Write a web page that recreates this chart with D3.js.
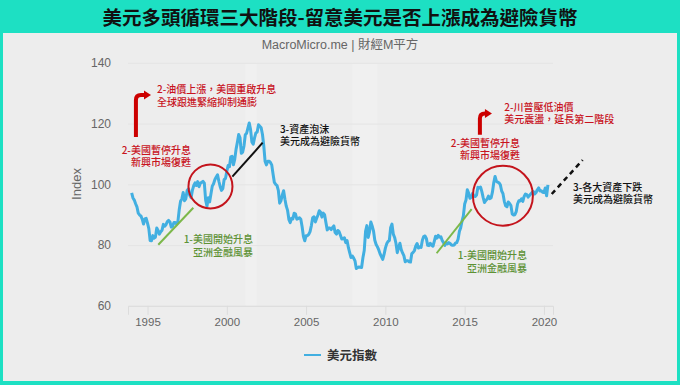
<!DOCTYPE html>
<html>
<head>
<meta charset="utf-8">
<script src="https://cdn.jsdelivr.net/npm/d3@7"></script>
<style>
  body { margin: 0; background: #1de0c3; }
  text { font-family: "Liberation Sans", Arial, "Noto Sans CJK TC", sans-serif; }
  .cjk { font-family: "Noto Sans CJK TC", "Noto Sans CJK SC", sans-serif; }
</style>
</head>
<body>
<script>
// US dollar index, monthly, starting Jan 1994
const dxyStartYear = 1994;
const dxyMonthly = [
  97.2, 95.5, 94.8, 93.6, 92.6, 90.5, 89.9, 89.6, 88.5, 86.9, 88.6, 88.8,
  87.2, 85.4, 81.5, 81.4, 83.1, 82.3, 82.6, 85.6, 84.8, 83.6, 84.4, 84.9,
  86.8, 86.2, 86.7, 87.7, 88.1, 87.6, 85.9, 86.2, 87.4, 87.4, 86.9, 87.8,
  91.6, 94.4, 95.2, 97.3, 94.6, 95.2, 98.0, 98.5, 96.3, 95.6, 98.1, 99.6,
  100.5, 99.6, 100.9, 99.2, 100.4, 100.6, 101.0, 100.4, 94.8, 92.8, 95.6, 94.2,
  96.8, 99.4, 100.2, 101.6, 102.4, 103.1, 101.0, 99.2, 98.0, 98.6, 101.6, 101.9,
  104.2, 106.2, 105.8, 109.0, 109.2, 106.4, 108.2, 111.5, 113.8, 116.4, 115.4, 110.2,
  110.6, 112.6, 116.3, 116.8, 118.6, 120.2, 118.0, 113.9, 113.2, 115.3, 116.9, 117.2,
  119.6, 119.1, 118.6, 116.4, 112.6, 107.5, 106.4, 107.6, 107.6, 107.2, 106.4, 103.4,
  100.6, 100.0, 99.6, 98.0, 93.8, 94.6, 96.5, 97.9, 95.1, 92.8, 91.4, 88.4,
  87.4, 88.8, 88.6, 90.5, 90.2, 88.5, 88.7, 89.0, 88.5, 86.0, 82.8, 81.4,
  83.1, 83.1, 83.5, 84.4, 86.4, 89.0, 89.3, 87.6, 88.8, 89.9, 91.3, 90.8,
  89.2, 90.5, 90.0, 87.4, 85.0, 85.6, 85.6, 85.1, 85.8, 86.3, 84.1, 83.6,
  84.8, 84.4, 83.2, 82.0, 82.1, 82.4, 80.8, 81.5, 79.2, 77.5, 75.9, 76.4,
  75.7, 74.8, 72.3, 72.6, 72.8, 72.7, 72.6, 75.8, 78.2, 84.5, 86.4, 82.5,
  84.3, 87.6, 86.3, 84.7, 81.6, 80.2, 79.4, 78.4, 77.1, 76.2, 75.3, 76.9,
  79.0, 80.4, 81.2, 81.5, 85.8, 86.9, 83.6, 82.5, 80.6, 77.5, 79.2, 80.6,
  78.5, 77.4, 76.5, 74.5, 74.8, 74.8, 74.5, 74.4, 77.2, 77.6, 78.2, 79.7,
  80.5, 79.0, 79.4, 79.2, 81.6, 82.8, 83.0, 82.2, 79.9, 79.8, 80.6, 79.9,
  79.6, 81.2, 82.9, 82.3, 83.2, 82.6, 82.7, 81.5, 80.8, 79.9, 80.8, 80.4,
  80.8, 80.5, 80.0, 79.9, 80.0, 80.6, 80.8, 81.9, 84.5, 85.7, 87.9, 89.6,
  93.5, 94.8, 98.2, 97.1, 95.4, 95.8, 97.0, 96.1, 96.0, 96.5, 99.0, 98.8,
  99.1, 97.6, 95.6, 94.0, 94.7, 95.1, 96.1, 95.3, 95.5, 97.4, 100.5, 102.6,
  101.0, 100.7, 100.5, 99.8, 97.8, 96.9, 94.4, 92.9, 92.6, 94.2, 93.7, 93.0,
  90.2, 89.9, 90.0, 91.0, 93.5, 94.6, 94.5, 95.2, 94.4, 96.0, 96.8, 96.6,
  95.8, 96.3, 96.8, 97.3, 97.6, 96.8, 97.3, 98.2, 98.8, 97.8, 97.9, 97.4,
  97.3, 98.8, 96.2, 99.8
];
const yTicks = [60, 80, 100, 120, 140];
const xTicks = [1995, 2000, 2005, 2010, 2015, 2020];
const recessions = [[2001.17, 2001.88], [2007.92, 2009.5]];

// annotations, anchored in [year, index] coordinates
const annoTexts = [
  {lines: ["2-油價上漲，美國重啟升息", "全球跟進緊縮抑制通膨"], at: [1995.6, 129.9], anchor: "start", color: "#c8141e"},
  {lines: ["2-美國暫停升息", "新興市場復甦"], at: [1997.74, 110.0], anchor: "end", color: "#c8141e"},
  {lines: ["3-資產泡沫", "美元成為避險貨幣"], at: [2003.35, 116.9], anchor: "start", color: "#111"},
  {lines: ["1-美國開始升息", "亞洲金融風暴"], at: [2001.65, 80.6], anchor: "end", color: "#5e9236"},
  {lines: ["2-川普壓低油價", "美元震盪，延長第二階段"], at: [2017.5, 124.2], anchor: "start", color: "#c8141e"},
  {lines: ["2-美國暫停升息", "新興市場復甦"], at: [2018.49, 112.4], anchor: "end", color: "#c8141e"},
  {lines: ["1-美國開始升息", "亞洲金融風暴"], at: [2018.93, 75.4], anchor: "end", color: "#5e9236"},
  {lines: ["3-各大資產下跌", "美元成為避險貨幣"], at: [2021.83, 97.9], anchor: "start", color: "#111"}
];
const annoLines = [
  {from: [1995.68, 80.1], to: [1997.89, 92.3], color: "#7cb84a", dash: null},
  {from: [2013.23, 77.3], to: [2015.44, 91.8], color: "#7cb84a", dash: null},
  {from: [2000.35, 102.5], to: [2002.26, 113.7], color: "#111", dash: null},
  {from: [2020.49, 96.8], to: [2022.44, 108.0], color: "#111", dash: "5,4"}
];
const annoCircles = [
  {at: [1998.97, 99.3], r: 22},
  {at: [2017.41, 96.25], r: 30}
];
const annoArrows = [
  {bottom: [1994.27, 115.6], corner: 129.4, tip: 1995.22},
  {bottom: [2015.96, 116.3], corner: 123.3, tip: 2016.72}
];

const W = 680, H = 385;
const svg = d3.select("body").append("svg").attr("width", W).attr("height", H);

svg.append("rect").attr("width", W).attr("height", H).attr("fill", "#1de0c3");
svg.append("rect").attr("x", 3).attr("y", 33).attr("width", 674).attr("height", 348).attr("fill", "#ededed");

svg.append("text").attr("class", "cjk")
  .attr("x", 340).attr("y", 24.5).attr("text-anchor", "middle")
  .attr("font-size", 19.5).attr("font-weight", "bold").attr("fill", "#111")
  .text("美元多頭循環三大階段-留意美元是否上漲成為避險貨幣");

svg.append("text")
  .attr("x", 340).attr("y", 48.5).attr("text-anchor", "middle")
  .attr("font-size", 12.5).attr("fill", "#666")
  .text("MacroMicro.me | 財經M平方");

const x = d3.scaleLinear().domain([1993.77, 2020.57]).range([128, 553]);
const y = d3.scaleLinear().domain([60, 140]).range([305.8, 62.8]);

// recession bands
svg.selectAll(".band").data(recessions).enter().append("rect")
  .attr("x", d => x(d[0])).attr("width", d => x(d[1]) - x(d[0]))
  .attr("y", y(140)).attr("height", y(60) - y(140))
  .attr("fill", "#f0f0f0");

// y axis + grid
const gy = svg.append("g").attr("transform", "translate(128,0)")
  .call(d3.axisLeft(y).tickValues(yTicks).tickSize(-(553 - 128)).tickPadding(17));
gy.select(".domain").remove();
gy.selectAll("line").attr("stroke", "#e4e4e4");
gy.selectAll("text").attr("font-size", 12).attr("fill", "#666")
  .attr("font-family", "'Liberation Sans', Arial, sans-serif");

// x axis
const gx = svg.append("g").attr("transform", "translate(0," + y(60) + ")")
  .call(d3.axisBottom(x).tickValues(xTicks).tickFormat(d3.format("d")).tickSize(9).tickPadding(3));
gx.select(".domain").attr("stroke", "#dcdcdc");
gx.selectAll("line").attr("stroke", "#dcdcdc");
gx.selectAll("text").attr("font-size", 11.5).attr("fill", "#666")
  .attr("font-family", "'Liberation Sans', Arial, sans-serif");

svg.append("text")
  .attr("transform", "translate(81,184) rotate(-90)")
  .attr("text-anchor", "middle").attr("font-size", 13).attr("fill", "#666")
  .text("Index");

// series
const series = dxyMonthly.map((v, i) => ({t: dxyStartYear + i / 12, v: v}));
svg.append("path").datum(series)
  .attr("fill", "none").attr("stroke", "#42afe1").attr("stroke-width", 3)
  .attr("stroke-linejoin", "round")
  .attr("d", d3.line().x(d => x(d.t)).y(d => y(d.v)));

// annotation lines
svg.selectAll(".aline").data(annoLines).enter().append("line")
  .attr("x1", d => x(d.from[0])).attr("y1", d => y(d.from[1]))
  .attr("x2", d => x(d.to[0])).attr("y2", d => y(d.to[1]))
  .attr("stroke", d => d.color).attr("stroke-width", d => d.dash ? 2.5 : 2)
  .attr("stroke-dasharray", d => d.dash);

svg.selectAll(".acircle").data(annoCircles).enter().append("circle")
  .attr("cx", d => x(d.at[0])).attr("cy", d => y(d.at[1])).attr("r", d => d.r)
  .attr("fill", "none").attr("stroke", "#c4141c").attr("stroke-width", 2);

// red bent arrows
annoArrows.forEach(a => {
  const bx = x(a.bottom[0]), by = y(a.bottom[1]);
  const cy = y(a.corner), tx = x(a.tip);
  svg.append("path")
    .attr("d", `M${bx},${by} L${bx},${cy + 5} Q${bx},${cy} ${bx + 5},${cy} L${tx - 5},${cy}`)
    .attr("fill", "none").attr("stroke", "#cc0000").attr("stroke-width", 4);
  svg.append("path")
    .attr("d", `M${tx},${cy} L${tx - 7},${cy - 4.5} L${tx - 7},${cy + 4.5} Z`)
    .attr("fill", "#cc0000");
});

// annotation texts, one text element per line
annoTexts.forEach(a => {
  a.lines.forEach((l, i) => {
    svg.append("text").attr("class", "cjk")
      .attr("x", x(a.at[0])).attr("y", y(a.at[1]) + i * 12.5)
      .attr("text-anchor", a.anchor).attr("font-size", 10)
      .attr("font-weight", 500).attr("fill", a.color)
      .text(l);
  });
});

// legend
svg.append("line").attr("x1", 304).attr("x2", 321).attr("y1", 355).attr("y2", 355)
  .attr("stroke", "#42afe1").attr("stroke-width", 2);
svg.append("text").attr("class", "cjk")
  .attr("x", 327).attr("y", 359.5).attr("font-size", 12.5).attr("font-weight", "bold")
  .attr("fill", "#333").text("美元指數");
</script>
</body>
</html>
